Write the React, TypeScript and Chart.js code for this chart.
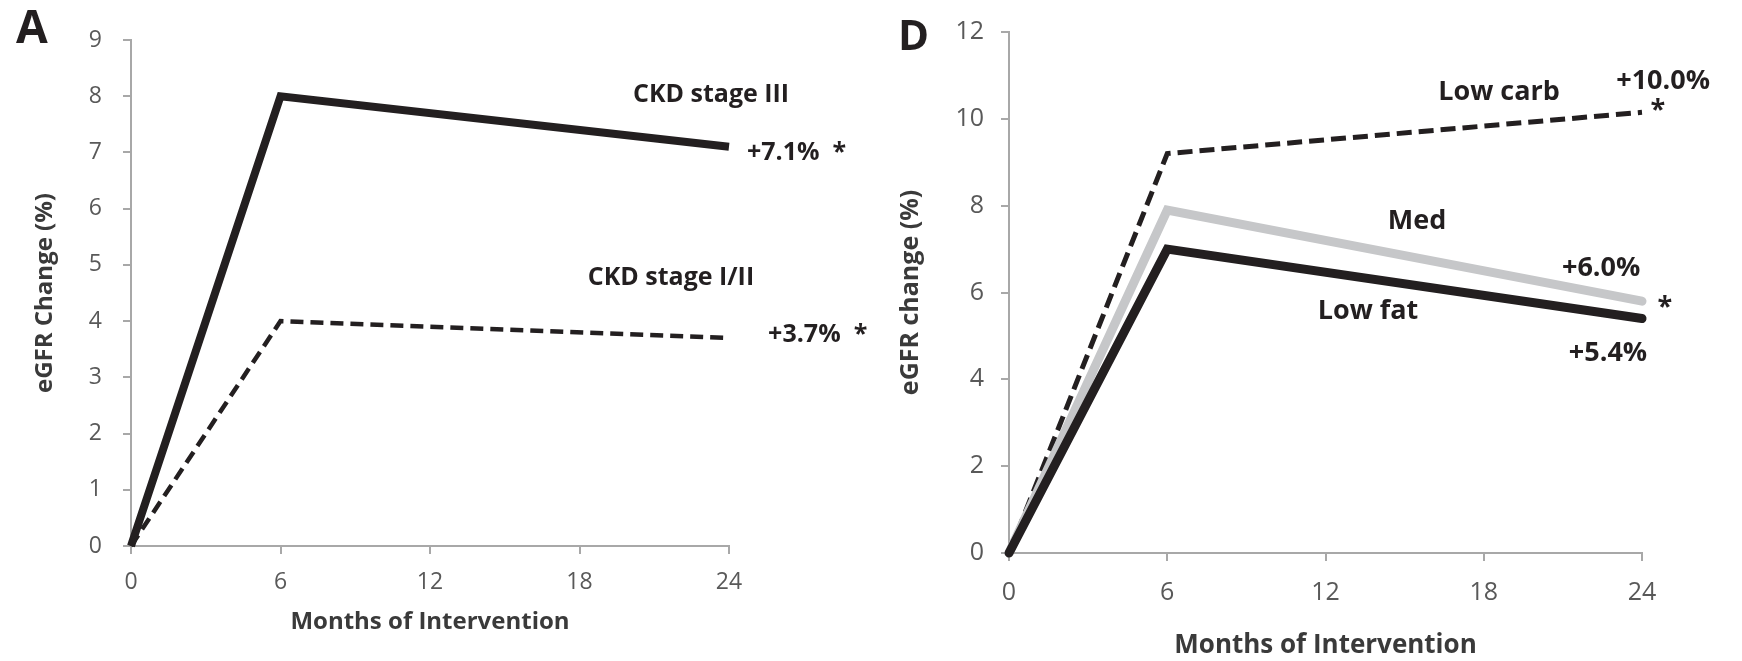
import React, { useEffect, useRef } from 'react';
import { Chart, registerables } from 'chart.js';

Chart.register(...registerables);

const FONT = '"Open Sans", Lato, sans-serif';

// ---- data ----
const months = [0, 6, 24];
const xTicks = [0, 6, 12, 18, 24];
const yTicksA = [0, 1, 2, 3, 4, 5, 6, 7, 8, 9];
const yTicksD = [0, 2, 4, 6, 8, 10, 12];

const ckdStage3 = [0, 8.0, 7.1];
const ckdStage12 = [0, 4.0, 3.7];

const lowCarb = [0, 9.2, 10.15];
const med = [0, 7.9, 5.8];
const lowFat = [0, 7.0, 5.4];

const labelsA = [
  { text: 'CKD stage III', x: 23.28, y: 8.02, align: 'center' },
  { text: '+7.1%  *', x: 24.72, y: 6.99, align: 'left' },
  { text: 'CKD stage I/II', x: 21.67, y: 4.77, align: 'center' },
  { text: '+3.7%  *', x: 25.57, y: 3.75, align: 'left' },
];

const labelsD = [
  { text: 'Low carb', x: 18.58, y: 10.62, align: 'center' },
  { text: '+10.0%', x: 24.8, y: 10.87, align: 'center' },
  { text: '*', x: 24.6, y: 10.19, align: 'center' },
  { text: 'Med', x: 15.47, y: 7.64, align: 'center' },
  { text: '+6.0%', x: 22.45, y: 6.55, align: 'center' },
  { text: '*', x: 24.87, y: 5.67, align: 'center' },
  { text: 'Low fat', x: 13.61, y: 5.56, align: 'center' },
  { text: '+5.4%', x: 22.71, y: 4.59, align: 'center' },
];

const AXIS = '#a8a8a8';
const TICK_TEXT = '#595959';
const TITLE_TEXT = '#3a3a3a';
const INK = '#231f20';
const GREY_LINE = '#c6c7c9';

const textPlugin = {
  id: 'textLabels',
  afterDatasetsDraw(chart: any, _args: any, opts: any) {
    const items = opts.items || [];
    const { ctx, scales } = chart;
    ctx.save();
    ctx.fillStyle = INK;
    ctx.font = `bold ${opts.size || 24}px ${FONT}`;
    ctx.textBaseline = 'middle';
    for (const it of items) {
      ctx.textAlign = it.align;
      ctx.fillText(it.text, scales.x.getPixelForValue(it.x), scales.y.getPixelForValue(it.y));
    }
    ctx.restore();
  },
};

function makeConfig(p: any) {
  return {
    type: 'line',
    data: {
      labels: months,
      datasets: p.datasets,
    },
    options: {
      animation: false,
      responsive: false,
      events: [],
      layout: { padding: p.padding },
      plugins: {
        legend: { display: false },
        tooltip: { enabled: false },
        textLabels: { items: p.labels, size: p.labelSize },
      },
      elements: { point: { radius: 0 }, line: { tension: 0 } },
      scales: {
        x: {
          type: 'linear',
          min: 0,
          max: 24,
          afterBuildTicks: (s: any) => {
            s.ticks = xTicks.map((v) => ({ value: v }));
          },
          afterFit: (s: any) => {
            s.height = p.xHeight;
          },
          grid: { drawOnChartArea: false, drawTicks: true, tickLength: 8, color: AXIS, lineWidth: 2 },
          border: { color: AXIS, width: 2 },
          ticks: { color: TICK_TEXT, font: { family: FONT, size: p.tickSize }, padding: p.xTickPad, maxRotation: 0 },
          title: {
            display: true,
            text: 'Months of Intervention',
            color: TITLE_TEXT,
            font: { family: FONT, size: p.xTitleSize, weight: 'bold' },
            padding: { top: 0, bottom: p.xTitlePad },
          },
        },
        y: {
          type: 'linear',
          min: p.yTicks[0],
          max: p.yTicks[p.yTicks.length - 1],
          afterBuildTicks: (s: any) => {
            s.ticks = p.yTicks.map((v: number) => ({ value: v }));
          },
          afterFit: (s: any) => {
            s.width = p.yWidth;
          },
          grid: { drawOnChartArea: false, drawTicks: true, tickLength: 8, color: AXIS, lineWidth: 2 },
          border: { color: AXIS, width: 2 },
          ticks: { color: TICK_TEXT, font: { family: FONT, size: p.tickSize }, padding: p.yTickPad },
          title: {
            display: true,
            text: p.yTitle,
            color: TITLE_TEXT,
            font: { family: FONT, size: p.yTitleSize, weight: 'bold' },
            padding: { top: p.yTitlePad, bottom: 0 },
          },
        },
      },
    },
    plugins: [textPlugin],
  };
}

function ChartCanvas({ config, width, height, left }: any) {
  const ref = useRef<HTMLCanvasElement | null>(null);
  useEffect(() => {
    if (!ref.current) return;
    const chart = new Chart(ref.current, config as any);
    return () => chart.destroy();
  }, []);
  return (
    <canvas
      ref={ref}
      width={width}
      height={height}
      style={{ position: 'absolute', left, top: 0, width, height, display: 'block' }}
    />
  );
}

const configA = makeConfig({
  datasets: [
    {
      data: ckdStage3,
      borderColor: INK,
      borderWidth: 8,
      borderJoinStyle: 'miter',
      clip: false,
      order: 1,
    },
    {
      data: ckdStage12,
      borderColor: INK,
      borderWidth: 4.5,
      borderDash: [13, 7],
      borderJoinStyle: 'miter',
      clip: false,
      order: 2,
    },
  ],
  labels: labelsA,
  labelSize: 25,
  tickSize: 23,
  xTitleSize: 24,
  yTitleSize: 24,
  yTicks: yTicksA,
  padding: { left: 0, top: 40, right: 141, bottom: 0 },
  yWidth: 131,
  xHeight: 115,
  xTickPad: 15,
  yTickPad: 21,
  xTitlePad: 24,
  yTitlePad: 31,
  yTitle: 'eGFR Change (%)',
});

const configD = makeConfig({
  datasets: [
    {
      data: lowFat,
      borderColor: INK,
      borderWidth: 9,
      borderJoinStyle: 'miter',
      borderCapStyle: 'round',
      clip: false,
      order: 1,
    },
    {
      data: med,
      borderColor: GREY_LINE,
      borderWidth: 9,
      borderJoinStyle: 'miter',
      borderCapStyle: 'round',
      clip: false,
      order: 2,
    },
    {
      data: lowCarb,
      borderColor: INK,
      borderWidth: 5,
      borderDash: [15, 7],
      borderJoinStyle: 'miter',
      clip: false,
      order: 3,
    },
  ],
  labels: labelsD,
  labelSize: 27,
  tickSize: 25,
  xTitleSize: 26,
  yTitleSize: 25,
  yTicks: yTicksD,
  padding: { left: 0, top: 22, right: 100, bottom: 0 },
  yWidth: 139,
  xHeight: 108,
  xTickPad: 17,
  yTickPad: 17,
  xTitlePad: 0,
  yTitlePad: 26,
  yTitle: 'eGFR change (%)',
});

const letterStyle = (size: number): any => ({
  position: 'absolute',
  font: `bold ${size}px ${FONT}`,
  lineHeight: 1,
  color: INK,
  margin: 0,
});

export default function App() {
  return (
    <div style={{ position: 'absolute', left: 0, top: 0, width: 1742, height: 661, background: '#fff', overflow: 'hidden' }}>
      <ChartCanvas config={configA} width={870} height={661} left={0} />
      <ChartCanvas config={configD} width={872} height={661} left={870} />
      <div style={{ ...letterStyle(46), left: 16, top: 2 }}>A</div>
      <div style={{ ...letterStyle(42), left: 898, top: 13 }}>D</div>
    </div>
  );
}
